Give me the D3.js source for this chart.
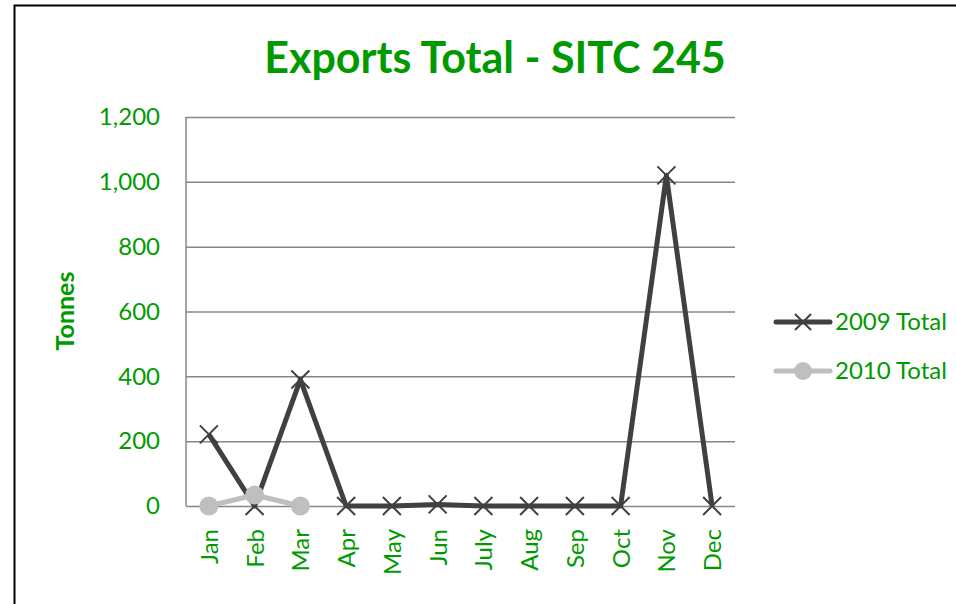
<!DOCTYPE html>
<html>
<head>
<meta charset="utf-8">
<script src="https://cdn.jsdelivr.net/npm/d3@7"></script>
<style>
  body { margin: 0; background: #fff; }
  svg { display: block; font-family: Lato, "Open Sans", sans-serif; }
</style>
</head>
<body>
<svg id="drawing_region"></svg>
<script>
const months = ['Jan', 'Feb', 'Mar', 'Apr', 'May', 'Jun', 'July', 'Aug', 'Sep', 'Oct', 'Nov', 'Dec'];
const total2009 = [221, 0, 390, 0, 0, 5, 0, 0, 0, 0, 1020, 0];
const total2010 = [0, 34, 0];
const yTicks = [0, 200, 400, 600, 800, 1000, 1200];

const green = '#009a00';
const config = {
    width: 956,
    height: 604,
    margin: { top: 117, right: 221, bottom: 98, left: 186 }
};

const svg = d3.select('#drawing_region')
    .attr('width', config.width)
    .attr('height', config.height);

// chart frame
svg.append('path')
    .attr('d', 'M14.5,620 V5.5 H960')
    .attr('fill', 'none')
    .attr('stroke', '#000')
    .attr('stroke-width', 2);

const inner_width = config.width - config.margin.left - config.margin.right;
const inner_height = config.height - config.margin.top - config.margin.bottom;

const chart = svg.append('g')
    .attr('transform', `translate(${config.margin.left}, ${config.margin.top})`);

const xscale = d3.scaleBand().domain(months).range([0, inner_width]);
const yscale = d3.scaleLinear().domain([0, 1200]).range([inner_height, 0]);

// gridlines + y labels
const yaxis = d3.axisLeft(yscale)
    .tickValues(yTicks)
    .tickSize(-inner_width)
    .tickPadding(26)
    .tickFormat(d3.format(','));
const yg = chart.append('g').call(yaxis);
yg.select('.domain').remove();
yg.selectAll('.tick line').attr('stroke', '#868686').attr('stroke-width', 1.5);
yg.selectAll('.tick text')
    .attr('fill', green)
    .attr('font-size', 24)
    .attr('font-family', 'Lato, sans-serif');

// y axis line
chart.append('line')
    .attr('x1', 0).attr('x2', 0)
    .attr('y1', 0).attr('y2', inner_height)
    .attr('stroke', '#868686').attr('stroke-width', 1.5);

// x labels
const xaxis = d3.axisBottom(xscale).tickSize(0);
const xg = chart.append('g')
    .attr('transform', `translate(0, ${inner_height})`)
    .call(xaxis);
xg.select('.domain').remove();
xg.selectAll('.tick text')
    .attr('fill', green)
    .attr('font-size', 24)
    .attr('font-family', 'Lato, sans-serif')
    .attr('text-anchor', 'end')
    .attr('dy', null)
    .attr('y', 0)
    .attr('transform', 'translate(9, 23) rotate(-90)');

const cx = (d, i) => xscale(months[i]) + xscale.bandwidth() / 2;
const line = d3.line().x(cx).y(d => yscale(d));

// 2009
chart.append('path')
    .datum(total2009)
    .attr('d', line)
    .attr('fill', 'none')
    .attr('stroke', '#404040')
    .attr('stroke-width', 5)
    .attr('stroke-linejoin', 'round');

const xMark = 'M-9,-9L9,9M-9,9L9,-9';
chart.selectAll('.m2009')
    .data(total2009)
    .join('path')
    .attr('class', 'm2009')
    .attr('transform', (d, i) => `translate(${cx(d, i)}, ${yscale(d)})`)
    .attr('d', xMark)
    .attr('stroke', '#404040')
    .attr('stroke-width', 2)
    .attr('fill', 'none');

// 2010
chart.append('path')
    .datum(total2010)
    .attr('d', line)
    .attr('fill', 'none')
    .attr('stroke', '#bfbfbf')
    .attr('stroke-width', 5)
    .attr('stroke-linejoin', 'round');

chart.selectAll('.m2010')
    .data(total2010)
    .join('circle')
    .attr('class', 'm2010')
    .attr('cx', cx)
    .attr('cy', d => yscale(d))
    .attr('r', 9.5)
    .attr('fill', '#bfbfbf');

// title
svg.append('text')
    .attr('x', 495)
    .attr('y', 73)
    .attr('text-anchor', 'middle')
    .attr('fill', green)
    .attr('font-size', 43)
    .attr('font-weight', 'bold')
    .text('Exports Total - SITC 245');

// y title
svg.append('text')
    .attr('transform', 'translate(74, 311) rotate(-90)')
    .attr('text-anchor', 'middle')
    .attr('fill', green)
    .attr('font-size', 25)
    .attr('font-weight', 'bold')
    .text('Tonnes');

// legend
const legend = svg.append('g').attr('transform', 'translate(776, 322)');
const items = [
    { name: '2009 Total', color: '#404040', mark: 'x' },
    { name: '2010 Total', color: '#bfbfbf', mark: 'o' }
];
const li = legend.selectAll('g')
    .data(items)
    .join('g')
    .attr('transform', (d, i) => `translate(0, ${i * 49})`);
li.append('line')
    .attr('x1', 0).attr('x2', 54)
    .attr('stroke', d => d.color)
    .attr('stroke-width', 5)
    .attr('stroke-linecap', 'round');
li.filter(d => d.mark === 'x').append('path')
    .attr('transform', 'translate(27, 0)')
    .attr('d', 'M-8,-8L8,8M-8,8L8,-8')
    .attr('stroke', d => d.color)
    .attr('stroke-width', 2);
li.filter(d => d.mark === 'o').append('circle')
    .attr('cx', 27)
    .attr('r', 9)
    .attr('fill', d => d.color);
li.append('text')
    .attr('x', 59)
    .attr('y', 8)
    .attr('fill', green)
    .attr('font-size', 24)
    .text(d => d.name);
</script>
</body>
</html>
